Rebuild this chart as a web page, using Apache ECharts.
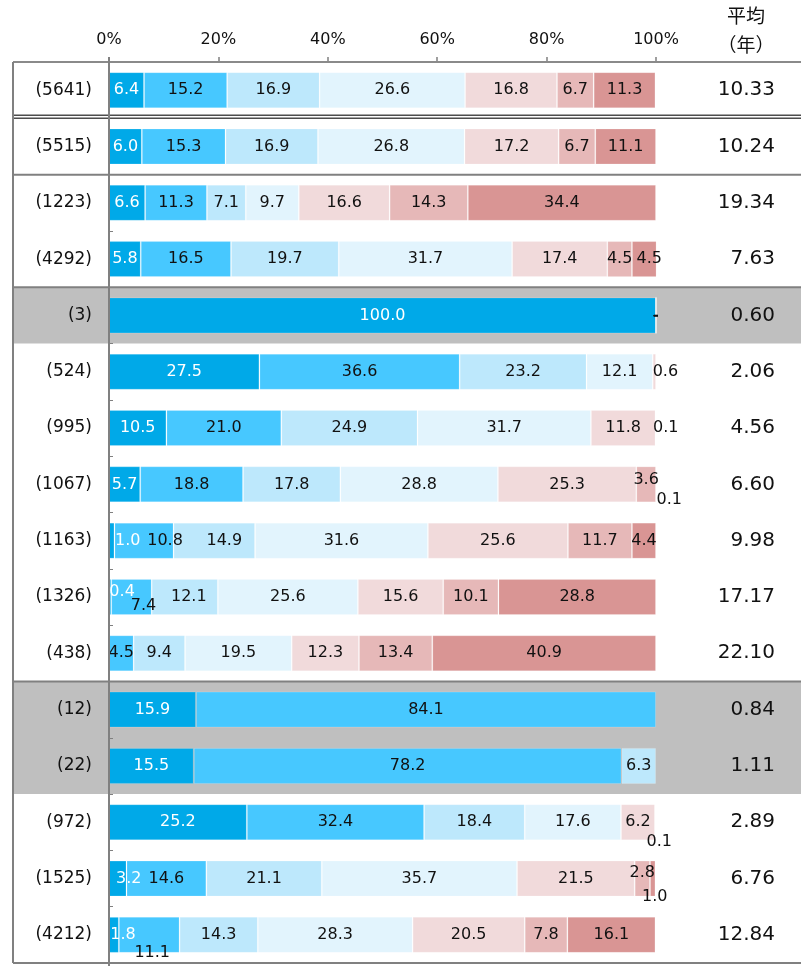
<!DOCTYPE html>
<html>
<head>
<meta charset="utf-8">
<script src="https://cdn.jsdelivr.net/npm/echarts@6/dist/echarts.min.js"></script>
<style>
  html, body { margin: 0; padding: 0; background: #fff; }
  #chart { width: 801px; height: 966px; }
</style>
</head>
<body>
<div id="chart"></div>
<script>
// Sample size per row (shown as "(n)") and mean years per row
const sampleSizes = [5641, 5515, 1223, 4292, 3, 524, 995, 1067, 1163, 1326, 438, 12, 22, 972, 1525, 4212];
const averages = ['10.33', '10.24', '19.34', '7.63', '0.60', '2.06', '4.56', '6.60', '9.98', '17.17', '22.10', '0.84', '1.11', '2.89', '6.76', '12.84'];
const percentTicks = [0, 20, 40, 60, 80, 100];

// Share (%) of each band, one array per band, in row order (null = no mark, 0 = "-")
const band1 = [6.4, 6.0, 6.6, 5.8, 100.0, 27.5, 10.5, 5.7, 1.0, 0.4, null, 15.9, 15.5, 25.2, 3.2, 1.8];
const band2 = [15.2, 15.3, 11.3, 16.5, 0, 36.6, 21.0, 18.8, 10.8, 7.4, 4.5, 84.1, 78.2, 32.4, 14.6, 11.1];
const band3 = [16.9, 16.9, 7.1, 19.7, 0, 23.2, 24.9, 17.8, 14.9, 12.1, 9.4, null, 6.3, 18.4, 21.1, 14.3];
const band4 = [26.6, 26.8, 9.7, 31.7, 0, 12.1, 31.7, 28.8, 31.6, 25.6, 19.5, null, null, 17.6, 35.7, 28.3];
const band5 = [16.8, 17.2, 16.6, 17.4, 0, 0.6, 11.8, 25.3, 25.6, 15.6, 12.3, null, null, 6.2, 21.5, 20.5];
const band6 = [6.7, 6.7, 14.3, 4.5, 0, null, 0.1, 3.6, 11.7, 10.1, 13.4, null, null, 0.1, 2.8, 7.8];
const band7 = [11.3, 11.1, 34.4, 4.5, 0, null, null, 0.1, 4.4, 28.8, 40.9, null, null, null, 1.0, 16.1];

const bands = [band1, band2, band3, band4, band5, band6, band7];
const bandColors = ['#00A9E8', '#47C8FF', '#BDE8FC', '#E2F4FD', '#F1DADB', '#E6B8B8', '#D99594'];
const labelColors = ['#ffffff', '#111111', '#111111', '#111111', '#111111', '#111111', '#111111'];

// Nudges for labels of narrow segments so they don't collide: band -> row -> [dx, dy]
const labelShift = {
  0: { 8: [16, 0], 9: [12, -5], 14: [11, 0], 15: [9, 0] },
  1: { 8: [21, 0], 9: [12, 9], 15: [3, 18] },
  2: { 8: [10, 0], 9: [4, 0] },
  4: { 5: [11, 0] },
  5: { 6: [10, 0], 7: [0, -5], 13: [4, 20], 14: [0, -6] },
  6: { 3: [5, 0], 7: [13, 15], 14: [2, 18] }
};

const FONT = '"DejaVu Sans", Verdana, sans-serif';
const CJK = '"Noto Sans CJK JP", "Noto Sans", sans-serif';

// Layout
const W = 801;
const gridLeft = 109, gridRight = 656, gridTop = 62, gridHeight = 901;
const rowH = gridHeight / sampleSizes.length;
const tableLeft = 13;
const boundary = k => gridTop + k * rowH;

const series = bands.map((vals, si) => ({
  type: 'bar',
  stack: 'total',
  name: 'band' + (si + 1),
  barWidth: 36,
  clip: false,
  itemStyle: { color: bandColors[si], borderColor: 'rgba(255,255,255,0.18)', borderWidth: 1 },
  label: {
    show: true,
    position: 'inside',
    color: labelColors[si],
    fontFamily: FONT,
    fontSize: 16,
    formatter: p => (p.value === 0 ? '-' : Number(p.value).toFixed(1))
  },
  data: vals.map((v, ri) => {
    const item = { value: v };
    const s = labelShift[si] && labelShift[si][ri];
    if (s) item.label = { offset: s };
    if (v === null) item.label = { show: false };
    return item;
  })
}));

// Decorative table rules and shaded rows
const graphics = [];
const shadedRows = [[4, 5], [11, 13]];
shadedRows.forEach(([a, b]) => {
  graphics.push({
    type: 'rect', z: -10, silent: true,
    shape: { x: tableLeft, y: boundary(a), width: W - tableLeft, height: boundary(b) - boundary(a) },
    style: { fill: '#BFBFBF' }
  });
});
const hLine = (y, color, width) => ({
  type: 'line', z: 50, silent: true,
  shape: { x1: tableLeft, y1: y, x2: W, y2: y },
  style: { stroke: color, lineWidth: width }
});
graphics.push(hLine(gridTop, '#8a8a8a', 2));
graphics.push(hLine(boundary(1) - 3, '#4d4d4d', 1.5));
graphics.push(hLine(boundary(1), '#4d4d4d', 1.5));
[2, 4, 11].forEach(k => graphics.push(hLine(boundary(k), '#808080', 2)));
graphics.push(hLine(boundary(16), '#808080', 2));
graphics.push({
  type: 'line', z: 50, silent: true,
  shape: { x1: tableLeft, y1: gridTop, x2: tableLeft, y2: boundary(16) },
  style: { stroke: '#808080', lineWidth: 2 }
});
graphics.push({
  type: 'line', z: 50, silent: true,
  shape: { x1: gridLeft, y1: gridTop - 5, x2: gridLeft, y2: 966 },
  style: { stroke: '#808080', lineWidth: 2 }
});
graphics.push({
  type: 'text', silent: true, x: 746, y: 16,
  style: { text: '平均', fontFamily: CJK, fontSize: 19, fill: '#111111', align: 'center', verticalAlign: 'middle' }
});
graphics.push({
  type: 'text', silent: true, x: 746, y: 45,
  style: { text: '（年）', fontFamily: CJK, fontSize: 19, fill: '#111111', align: 'center', verticalAlign: 'middle' }
});

const chart = echarts.init(document.getElementById('chart'), null, { renderer: 'canvas' });
chart.setOption({
  backgroundColor: '#ffffff',
  animation: false,
  grid: { left: gridLeft, right: W - gridRight, top: gridTop, height: gridHeight, containLabel: false },
  xAxis: {
    type: 'value',
    position: 'top',
    min: percentTicks[0],
    max: percentTicks[percentTicks.length - 1],
    interval: percentTicks[1] - percentTicks[0],
    axisLine: { show: false },
    axisTick: { show: true, length: 5, lineStyle: { color: '#808080', width: 1.5 } },
    splitLine: { show: false },
    axisLabel: { formatter: '{value}%', fontFamily: FONT, fontSize: 16, color: '#111111', margin: 14 }
  },
  yAxis: [{
    type: 'category',
    inverse: true,
    data: sampleSizes.map(String),
    axisLine: { show: false },
    axisTick: { show: true, inside: true, length: 4, lineStyle: { color: '#808080', width: 1 } },
    axisLabel: { formatter: v => '(' + v + ')', fontFamily: FONT, fontSize: 17, color: '#111111', margin: 17 }
  }, {
    type: 'category',
    inverse: true,
    position: 'right',
    data: averages,
    axisLine: { show: false },
    axisTick: { show: false },
    axisLabel: { align: 'right', margin: 119, fontFamily: FONT, fontSize: 20, color: '#111111' }
  }],
  graphic: graphics,
  series: series
});
</script>
</body>
</html>
